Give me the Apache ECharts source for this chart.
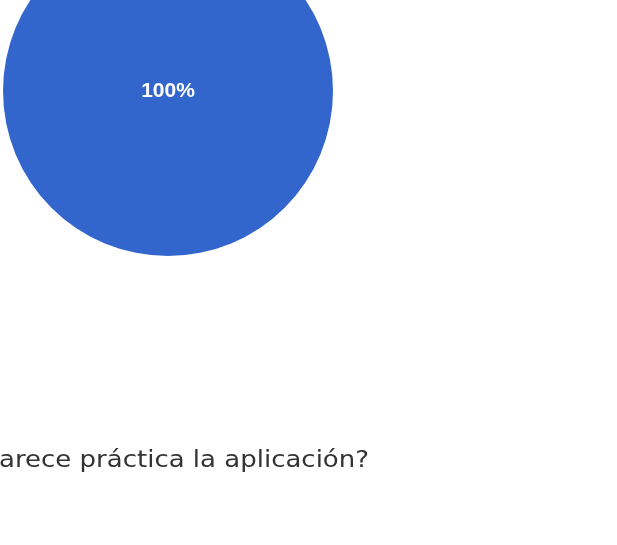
<!DOCTYPE html>
<html>
<head>
<meta charset="utf-8">
<script src="https://cdn.jsdelivr.net/npm/echarts@6/dist/echarts.min.js"></script>
<style>
  html, body { margin: 0; padding: 0; background: #fff; }
  #chart { width: 617px; height: 545px; }
</style>
</head>
<body>
<div id="chart"></div>
<script>
// Answers and their counts (only one answer shown in the crop)
const answers = ["Sí"];
const counts = [100];
const questionText = "arece práctica la aplicación?";

const myChart = echarts.init(document.getElementById("chart"));

myChart.setOption({
    animation: false,
    graphic: [
        {
            type: "text",
            x: -1,
            y: 461,
            scaleX: 1.13, // the original font is wider than anything installed
            style: {
                text: questionText,
                font: "23px 'DejaVu Sans', sans-serif",
                fill: "#333333",
                verticalAlign: "middle"
            }
        }
    ],
    series: [
        {
            type: "pie",
            center: [168, 91],
            radius: 165,
            startAngle: 90,
            silent: true,
            itemStyle: { color: "#3366cc" },
            label: {
                show: true,
                position: "center",
                formatter: "{d}%",
                color: "#ffffff",
                fontSize: 21,
                fontWeight: "bold",
                fontFamily: "Arial, 'Liberation Sans', sans-serif"
            },
            labelLine: { show: false },
            data: answers.map((name, i) => ({ name: name, value: counts[i] }))
        }
    ]
});
</script>
</body>
</html>
